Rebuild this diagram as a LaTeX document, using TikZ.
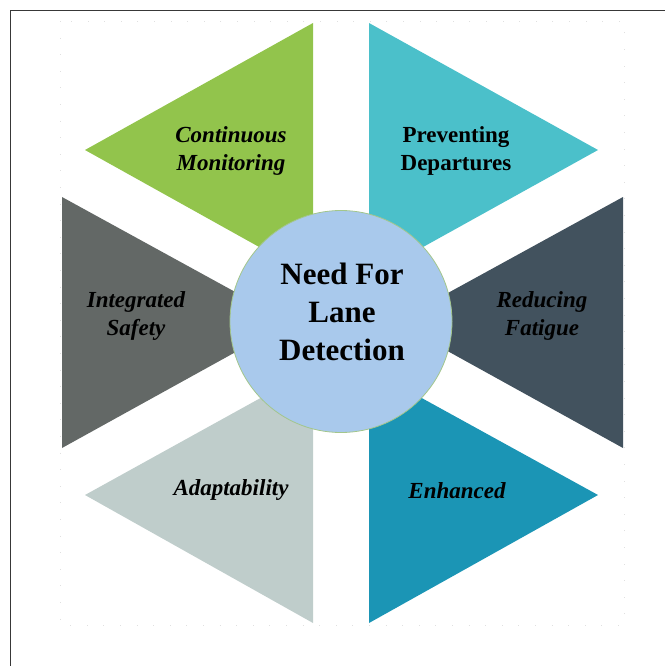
\documentclass[tikz,border=0pt]{standalone}
\usepackage{fontspec}
\setmainfont{Liberation Serif}
\definecolor{monitor}{HTML}{92C44C}
\definecolor{prevent}{HTML}{4BC0CA}
\definecolor{safety}{HTML}{636866}
\definecolor{fatigue}{HTML}{42525E}
\definecolor{adapt}{HTML}{BFCDCB}
\definecolor{enhance}{HTML}{1B95B5}
\definecolor{hubfill}{HTML}{A9C9EC}
\definecolor{hubline}{HTML}{A3C68C}
\tikzset{
  lbl/.style={align=center,font=\fontsize{23bp}{28bp}\selectfont\bfseries\itshape},
  lblup/.style={align=center,font=\fontsize{23bp}{28bp}\selectfont\bfseries},
  hub/.style={circle,minimum size=222bp,inner sep=0pt,fill=hubfill,draw=hubline,line width=0.8bp},
  title/.style={align=center,font=\fontsize{31bp}{38bp}\selectfont\bfseries}
}

\begin{document}
\begin{tikzpicture}[x=1bp,y=-1bp]
\useasboundingbox (0,0) rectangle (665,666);
\draw[line width=1.5bp,black!78] (10.5,666) -- (10.5,10.5) -- (665,10.5);
\draw[black!12,dash pattern=on 1bp off 15.6bp] (60,21) rectangle (624,625);
\fill[monitor] (313,23) -- (313,277) -- (85,150) -- cycle;
\fill[prevent] (369,23) -- (369,277) -- (598,150) -- cycle;
\fill[safety] (62,197) -- (62,448) -- (290,322) -- cycle;
\fill[fatigue] (623,197) -- (623,448) -- (395,322) -- cycle;
\fill[adapt] (313,623) -- (313,369) -- (85,495) -- cycle;
\fill[enhance] (369,623) -- (369,369) -- (598,495) -- cycle;
\node[hub] (hub) at (341,321.5) {};
\node[title] (need) at (342,312) {Need For\\Lane\\Detection};
\node[lbl] (cm) at (231,151) {Continuous\\Monitoring};
\node[lblup] (pd) at (456,151) {Preventing\\Departures};
\node[lbl] (is) at (136,316) {Integrated\\Safety};
\node[lbl] (rf) at (542,316) {Reducing\\Fatigue};
\node[lbl] (ad) at (231,490) {Adaptability};
\node[lbl] (en) at (457,491) {Enhanced};
\end{tikzpicture}
\end{document}
